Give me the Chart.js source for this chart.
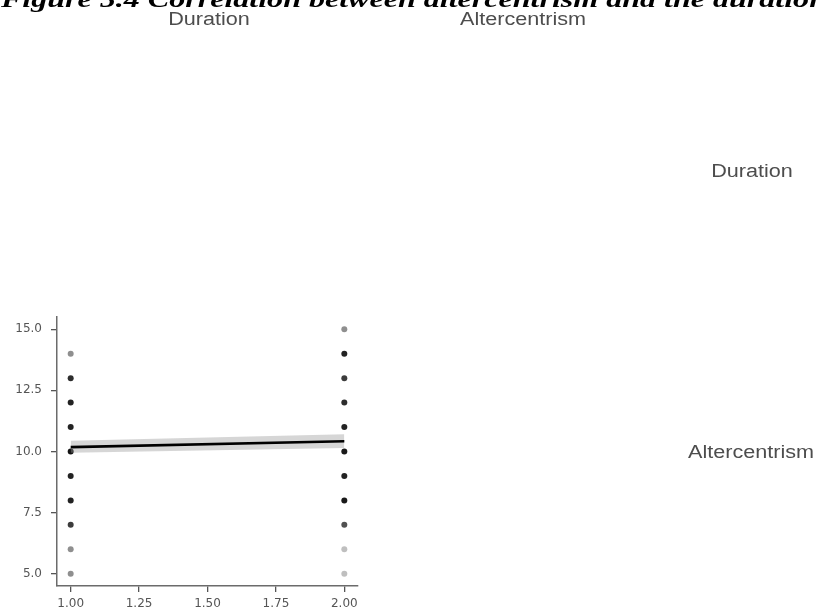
<!DOCTYPE html>
<html>
<head>
<meta charset="utf-8">
<script src="https://cdn.jsdelivr.net/npm/chart.js@4/dist/chart.umd.min.js"></script>
<style>
  html, body { margin: 0; padding: 0; background: #fff; }
  #wrap { position: relative; width: 817px; height: 610px; overflow: hidden; }
  #plot { position: absolute; left: 0; top: 0; }
  .fig-title {
    position: absolute; left: 1px; top: -14px; white-space: nowrap;
    font-family: "Liberation Serif", "Times New Roman", Times, serif;
    font-weight: 700; font-style: italic; font-size: 24px; color: #000;
    transform-origin: 0 0;
  }
  .strip {
    position: absolute; white-space: nowrap;
    font-family: "Liberation Sans", Arial, sans-serif; font-size: 18px;
    color: #4d4d4d; line-height: 18px;
    transform: translateX(-50%) scaleX(1.2);
  }
</style>
</head>
<body>
<div id="wrap">
  <canvas id="plot" width="817" height="610"></canvas>
  <div class="fig-title" id="figTitle">Figure 5.4 Correlation between altercentrism and the duration</div>
  <div class="strip" style="left:209px; top:10px;">Duration</div>
  <div class="strip" style="left:523px; top:10px;">Altercentrism</div>
  <div class="strip" style="left:752px; top:162px;">Duration</div>
  <div class="strip" style="left:751px; top:443px;">Altercentrism</div>
</div>
<script>
// Duration groups on the x axis and the altercentrism scores observed in each
const durationGroups = [1, 2];
const altercentrismScores = [5, 6, 7, 8, 9, 10, 11, 12, 13, 14, 15];
// Number of respondents at each score (null = no respondent), per duration group
const countsGroup1 = [2, 2, 5, 7, 7, 9, 7, 7, 6, 2, null];
const countsGroup2 = [1, 1, 4, 8, 7, 8, 7, 6, 5, 7, 2];

// Linear fit and its 95% confidence band at both ends
const fitX = [1, 2];
const fitY = [10.18, 10.42];
const bandLower = [9.95, 10.14];
const bandUpper = [10.44, 10.71];

// Axis ticks
const xTicks = [1.00, 1.25, 1.50, 1.75, 2.00];
const yTicks = [5.0, 7.5, 10.0, 12.5, 15.0];

// Overlapping translucent points darken with the number of respondents
const POINT_ALPHA = 0.25;
function shade(n) {
  const a = 1 - Math.pow(1 - POINT_ALPHA, n);
  return 'rgba(0,0,0,' + a.toFixed(3) + ')';
}
function pointsFor(groupX, counts) {
  const pts = [], cols = [];
  altercentrismScores.forEach((s, i) => {
    if (counts[i]) { pts.push({ x: groupX, y: s }); cols.push(shade(counts[i])); }
  });
  return { pts, cols };
}
const g1 = pointsFor(durationGroups[0], countsGroup1);
const g2 = pointsFor(durationGroups[1], countsGroup2);
const pairs = (xs, ys) => xs.map((x, i) => ({ x: x, y: ys[i] }));

const axisGrey = '#555555';
const tickFont = { family: '"DejaVu Sans", Verdana, sans-serif', size: 12 };

new Chart(document.getElementById('plot'), {
  type: 'line',
  data: {
    datasets: [
      { label: 'fit', data: pairs(fitX, fitY), borderColor: '#000', borderWidth: 2.6,
        pointRadius: 0, fill: false, tension: 0 },
      { label: 'lower', data: pairs(fitX, bandLower), borderWidth: 0, borderColor: 'rgba(0,0,0,0)',
        pointRadius: 0, fill: false },
      { label: 'upper', data: pairs(fitX, bandUpper), borderWidth: 0, borderColor: 'rgba(0,0,0,0)',
        pointRadius: 0, fill: '-1', backgroundColor: 'rgba(153,153,153,0.4)' },
      { label: 'group 1', data: g1.pts, showLine: false, pointRadius: 3, pointBorderWidth: 0,
        pointBackgroundColor: g1.cols, pointHoverRadius: 3 },
      { label: 'group 2', data: g2.pts, showLine: false, pointRadius: 3, pointBorderWidth: 0,
        pointBackgroundColor: g2.cols, pointHoverRadius: 3 }
    ]
  },
  options: {
    responsive: false,
    animation: false,
    events: [],
    layout: { padding: { top: 317, right: 459, left: 0, bottom: 0 } },
    plugins: { legend: { display: false }, tooltip: { enabled: false }, title: { display: false } },
    scales: {
      x: {
        type: 'linear', min: 0.95, max: 2.05,
        afterBuildTicks: s => { s.ticks = xTicks.map(v => ({ value: v })); },
        afterFit: s => { s.height = 24; },
        ticks: { color: axisGrey, font: tickFont, padding: 5, maxRotation: 0,
          callback: v => Number(v).toFixed(2) },
        grid: { display: true, drawOnChartArea: false, drawTicks: true, tickLength: 6,
          color: axisGrey, lineWidth: 1.3 },
        border: { display: true, color: '#6b6b6b', width: 1.5 }
      },
      y: {
        type: 'linear', min: 4.5, max: 15.5,
        afterBuildTicks: s => { s.ticks = yTicks.map(v => ({ value: v })); },
        afterFit: s => { s.width = 57; },
        ticks: { color: axisGrey, font: tickFont, padding: 9,
          callback: v => Number(v).toFixed(1) },
        grid: { display: true, drawOnChartArea: false, drawTicks: true, tickLength: 6,
          color: axisGrey, lineWidth: 1.3 },
        border: { display: true, color: '#6b6b6b', width: 1.5 }
      }
    }
  }
});

// Stretch the figure caption across the page width
(function () {
  const t = document.getElementById('figTitle');
  const w = t.getBoundingClientRect().width;
  t.style.transform = 'scaleX(' + (826 / w).toFixed(4) + ')';
})();
</script>
</body>
</html>
